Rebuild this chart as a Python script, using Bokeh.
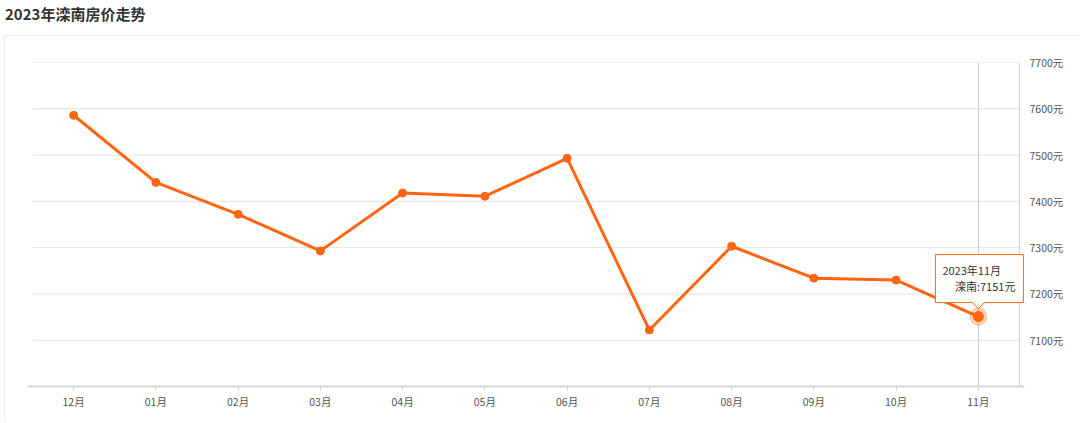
from bokeh.plotting import figure
from bokeh.models import FactorRange, Range1d, LinearAxis, FixedTicker, Span, Div, CategoricalAxis, Label, PolyAnnotation
from bokeh.layouts import column
from bokeh.embed import file_html
from bokeh.resources import INLINE

months = ["12月", "01月", "02月", "03月", "04月", "05月", "06月", "07月", "08月", "09月", "10月", "11月"]
prices = [7586, 7441, 7372, 7293, 7418, 7411, 7493, 7122, 7303, 7234, 7230, 7151]
y_ticks = [7000, 7100, 7200, 7300, 7400, 7500, 7600, 7700]
title_text = "2023年滦南房价走势"
tip_title = "2023年11月"
tip_series = "滦南"

FONT = "Noto Sans CJK SC"
ORANGE = "#ff6512"
GRID = "#e3e3e3"
AXIS = "#d6d6d6"
W, H = 1075, 387
FL, FR, FT, FB = 22, 56, 26, 37
ymin, ymax = 7000, 7700
n = len(months)
frame_w = W - FL - FR
pad = 5 * (n / (frame_w - 10))  # 5px of room on each side of the category band

p = figure(width=W, height=H,
           x_range=FactorRange(*months, range_padding=pad, range_padding_units="absolute"),
           y_range=Range1d(ymin, ymax), output_backend="svg", toolbar_location=None,
           x_axis_location=None, y_axis_location=None, margin=(0, 0, 0, 4),
           min_border_left=FL, min_border_right=FR, min_border_top=FT, min_border_bottom=FB)
p.outline_line_color = None
p.background_fill_color = "white"
p.border_fill_color = "white"
p.styles = {"border-left": "1px solid #ececec", "border-top": "1px solid #ececec"}

xa = CategoricalAxis()
xa.axis_line_color = AXIS
xa.axis_line_width = 2
xa.major_tick_line_color = "#d0d0d0"
xa.major_tick_out = 4
xa.major_tick_in = 0
xa.major_label_standoff = 3
xa.major_label_text_font = FONT
xa.major_label_text_font_size = "10.5px"
xa.major_label_text_color = "#555555"
p.add_layout(xa, "below")

ya = LinearAxis(ticker=FixedTicker(ticks=y_ticks))
ya.axis_line_color = None
ya.major_tick_line_color = None
ya.minor_tick_line_color = None
ya.major_label_standoff = -1
ya.major_label_overrides = {t: ("" if t == ymin else f"{t}元") for t in y_ticks}
ya.major_label_text_font = FONT
ya.major_label_text_font_size = "10.5px"
ya.major_label_text_color = "#555555"
p.add_layout(ya, "right")

p.xgrid.grid_line_color = None
p.ygrid.grid_line_color = None
# horizontal grid lines across the category band only
p.segment(x0=[0] * len(y_ticks), x1=[n] * len(y_ticks), y0=y_ticks, y1=y_ticks,
          line_color=GRID, line_width=1, level="underlay")
# right-hand boundary line of the band
p.add_layout(Span(location=n, dimension="height", line_color=AXIS, line_width=1, level="underlay"))

# crosshair at last category
last_x = n - 0.5
p.add_layout(Span(location=last_x, dimension="height", line_color="#cccccc", line_width=1, level="underlay"))

p.line(months, prices, line_color=ORANGE, line_width=3)
p.scatter(months[:-1], prices[:-1], size=8, color=ORANGE)
p.scatter([months[-1]], [prices[-1]], size=17, color=ORANGE, alpha=0.3)
p.scatter([months[-1]], [prices[-1]], size=10, color=ORANGE)

# tooltip anchored to last point (pixel offsets converted to data units)
frame_h = H - FT - FB
py = frame_h / (ymax - ymin)
px = frame_w / (n + 2 * pad)
ly = prices[-1]
line2 = f"{tip_series}:{ly}元"
L, R = last_x - 43 / px, last_x + 45 / px
T, B = ly + 62 / py, ly + 14 / py
tip = ly + 8 / py
aw = 6 / px
p.add_layout(PolyAnnotation(xs=[L, R, R, last_x + aw, last_x, last_x - aw, L],
                            ys=[T, T, B, B, tip, B, B],
                            fill_color="white", fill_alpha=1, line_color=ORANGE, line_width=1, line_alpha=1))
p.add_layout(Label(x=last_x, y=ly + 47 / py, x_offset=-36, text=tip_title, text_align="left",
                   text_baseline="middle", text_font=FONT, text_font_size="11px", text_color="#333333"))
p.add_layout(Label(x=last_x, y=ly + 31 / py, x_offset=37, text=line2, text_align="right",
                   text_baseline="middle", text_font=FONT, text_font_size="11px", text_color="#333333"))

title = Div(text=f'<div style="font-family:\'{FONT}\';font-size:15px;font-weight:bold;color:#333;'
                 f'line-height:18px;padding:5px 0 0 5px;">{title_text}</div>',
            width=1080, height=35, margin=0)

layout = column(title, p, spacing=0)
open("out.html", "w").write(file_html(layout, INLINE))
